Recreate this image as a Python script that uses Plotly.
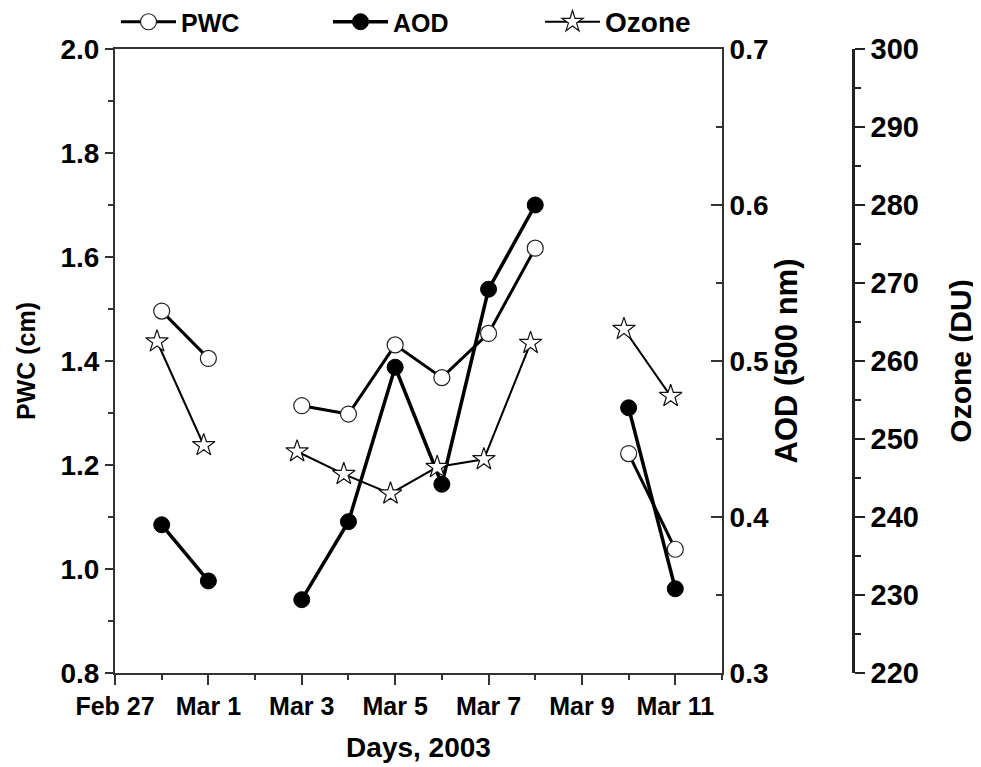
import plotly.graph_objects as go

# ---- data ----
dates = ["2003-02-28", "2003-03-01", "2003-03-02", "2003-03-03", "2003-03-04", "2003-03-05",
         "2003-03-06", "2003-03-07", "2003-03-08", "2003-03-09", "2003-03-10", "2003-03-11"]
pwc = [1.496, 1.405, None, 1.314, 1.298, 1.431, 1.368, 1.453, 1.617, None, 1.222, 1.038]
aod = [0.395, 0.359, None, 0.347, 0.397, 0.496, 0.421, 0.546, 0.600, None, 0.470, 0.354]
ozone_times = ["2003-02-27 21:36", "2003-02-28 21:36", "2003-03-01 21:36", "2003-03-02 21:36",
               "2003-03-03 21:36", "2003-03-04 21:36", "2003-03-05 21:36", "2003-03-06 21:36",
               "2003-03-07 21:36", "2003-03-08 21:36", "2003-03-09 21:36", "2003-03-10 21:36"]
ozone = [262.5, 249.2, None, 248.4, 245.5, 243.0, 246.4, 247.4, 262.3, None, 264.1, 255.5]

x_range = ["2003-02-27", "2003-03-12"]
pwc_range = [0.8, 2.0]
aod_range = [0.3, 0.7]
ozone_range = [220, 300]

FONT = "Liberation Sans, Arial, sans-serif"
DAY = 86400000

def bold(size):
    return dict(family=FONT, size=size, color="black", weight="bold")

fig = go.Figure()
fig.add_trace(go.Scatter(
    x=dates, y=pwc, name="PWC", mode="lines+markers", connectgaps=False,
    line=dict(color="black", width=3),
    marker=dict(symbol="circle", size=16, color="white", line=dict(color="#222", width=1.2)),
    yaxis="y"))
fig.add_trace(go.Scatter(
    x=dates, y=aod, name="AOD", mode="lines+markers", connectgaps=False,
    line=dict(color="black", width=3.5),
    marker=dict(symbol="circle", size=16, color="black", line=dict(color="black", width=1)),
    yaxis="y2"))
fig.add_trace(go.Scatter(
    x=ozone_times, y=ozone, name="<span style='font-size:28px'>Ozone</span>",
    mode="lines+markers", connectgaps=False,
    line=dict(color="black", width=2),
    marker=dict(symbol="star", size=17, color="white", line=dict(color="#111", width=1.2)),
    yaxis="y3"))

# page body adds an 8px offset, so the figure is 8px smaller than the window
W, H = 973, 759
L, T = 107, 41
R_AXIS, OZ_AXIS, BOTTOM = 714, 845, 665
plot_w = OZ_AXIS - L
plot_h = BOTTOM - T
dom_right = (R_AXIS - L) / plot_w

fig.update_layout(
    width=W, height=H,
    margin=dict(l=L, r=W - OZ_AXIS, t=T, b=H - BOTTOM, autoexpand=False),
    paper_bgcolor="white", plot_bgcolor="white",
    showlegend=True,
    legend=dict(orientation="h", xref="paper", yref="paper",
                x=(108 - L) / plot_w, y=1 + (T - 14) / plot_h,
                xanchor="left", yanchor="middle",
                font=bold(25), entrywidth=142, entrywidthmode="pixels",
                bgcolor="rgba(0,0,0,0)", itemwidth=55),
    xaxis=dict(
        type="date", domain=[0, dom_right], range=x_range,
        tick0="2003-02-27", dtick=2 * DAY, tickformat="%b %-d",
        ticks="outside", ticklen=10, tickwidth=2, tickcolor="#333",
        showline=True, linewidth=2, linecolor="#333", mirror=True,
        showgrid=False, zeroline=False, tickfont=bold(25),
        minor=dict(dtick=DAY, tick0="2003-02-27", ticks="outside", ticklen=5, tickwidth=2, tickcolor="#333"),
        title=dict(text="Days, 2003", font=bold(28), standoff=18)),
    yaxis=dict(
        range=pwc_range, dtick=0.2, tickformat=".1f",
        ticks="outside", ticklen=8, tickwidth=2, tickcolor="#333",
        showline=True, linewidth=2, linecolor="#333",
        showgrid=False, zeroline=False, tickfont=bold(28),
        minor=dict(dtick=0.1, ticks="outside", ticklen=5, tickwidth=2, tickcolor="#333"),
        title=dict(text="PWC (cm)", font=bold(25), standoff=18)),
    yaxis2=dict(
        overlaying="y", side="right", anchor="x",
        range=aod_range, dtick=0.1, tickformat=".1f",
        ticks="inside", ticklen=11, tickwidth=2, tickcolor="#333",
        showline=True, linewidth=2, linecolor="#333",
        showgrid=False, zeroline=False, tickfont=bold(28),
        minor=dict(dtick=0.05, ticks="inside", ticklen=6, tickwidth=2, tickcolor="#333"),
        title=dict(text="AOD (500 nm)", font=bold(31), standoff=6)),
    yaxis3=dict(
        overlaying="y", side="right", anchor="free", position=1.0,
        range=ozone_range, dtick=10,
        ticks="outside", ticklen=10, tickwidth=2, tickcolor="#222",
        showline=True, linewidth=2.5, linecolor="#222",
        showgrid=False, zeroline=False, tickfont=bold(29),
        minor=dict(dtick=5, ticks="outside", ticklen=6, tickwidth=2, tickcolor="#222"),
        title=dict(text="Ozone (DU)", font=bold(30), standoff=32)),
)

fig.write_html("out.html")
